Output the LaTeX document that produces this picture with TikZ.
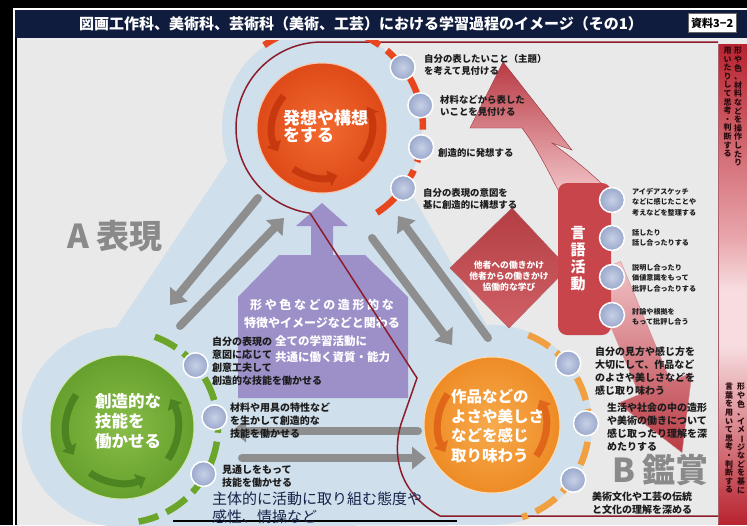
\documentclass[tikz,border=0pt]{standalone}
\usepackage{fontspec}
\usepackage{graphicx}
\setmainfont{Noto Sans CJK JP}
\usetikzlibrary{arrows.meta,calc}

\definecolor{bgc}{HTML}{E9E9E9}
\definecolor{halo}{HTML}{CFE0EC}
\definecolor{navy}{HTML}{0F1C3E}
\definecolor{topL}{HTML}{F26A30}
\definecolor{topD}{HTML}{DE4A18}
\definecolor{topA}{HTML}{C8380E}
\definecolor{topR}{HTML}{E8461E}
\definecolor{grnL}{HTML}{88BC48}
\definecolor{grnD}{HTML}{66A02C}
\definecolor{grnA}{HTML}{4B8420}
\definecolor{grnR}{HTML}{6BA52A}
\definecolor{orL}{HTML}{F7AA4C}
\definecolor{orD}{HTML}{EE8C26}
\definecolor{orA}{HTML}{E0661A}
\definecolor{orR}{HTML}{F0A040}
\definecolor{dred}{HTML}{8C1C2A}
\definecolor{bulL}{HTML}{C8D0E6}
\definecolor{bulD}{HTML}{9AA8CC}
\definecolor{purp}{HTML}{9D90C8}
\definecolor{garr}{HTML}{8E8E8E}
\definecolor{rbox}{HTML}{C7454B}
\definecolor{txt}{HTML}{1C1C1C}
\definecolor{arrD}{HTML}{B93A44}
\definecolor{arrL}{HTML}{F2C4C8}
\definecolor{banD}{HTML}{B8232F}
\definecolor{banM}{HTML}{E8A4AA}
\definecolor{banL}{HTML}{F7DDE0}
\definecolor{bigg}{HTML}{8A8A8A}
\definecolor{navytxt}{HTML}{18224A}
\definecolor{bantxt}{HTML}{2A0A0E}

\newcommand\fsz[2]{\fontsize{#1}{#2}\selectfont}
\def\myendmark{\myend}
\def\myvstep#1{\def\mytmp{#1}\ifx\mytmp\myendmark\else\hbox to 1em{\hss#1\hss}\expandafter\myvstep\fi}
\newcommand\myvtext[2]{\vbox{\baselineskip=#1\lineskiplimit=-20pt\myvstep#2\myend}}

\begin{document}
\begin{tikzpicture}[x=1pt,y=-1pt,
  lbl/.style={anchor=north west,align=left,inner sep=0pt,text=txt,font=\bfseries\fsz{9.4}{12.5}},
  lblg/.style={anchor=north west,align=left,inner sep=0pt,text=txt,font=\bfseries\fsz{10}{13}},
  lbls/.style={anchor=north west,align=left,inner sep=0pt,text=txt,font=\bfseries\fsz{7.1}{10.5}},
  bullet/.style={circle,minimum size=25pt,inner sep=0pt,draw=white,line width=1.5pt,inner color=bulL,outer color=bulD},
  garrow/.style={draw=garr,line width=8pt,line cap=round,-{Triangle[width=22pt,length=14pt]}},
  ringd/.style={line width=6.5pt,dash pattern=on 24pt off 9pt},
  inarr/.style={line width=7pt,-{Triangle[width=16pt,length=9pt]}},
  bigt/.style={font=\bfseries\fsz{33}{33},text=bigg,inner sep=0pt},
  vban/.style={font=\bfseries\fsz{8}{8},text=bantxt,anchor=north,inner sep=0pt},
]
\useasboundingbox (0,0) rectangle (747,525);
\clip (0,0) rectangle (747,525);
\fill[bgc] (0,0) rectangle (747,525);

\coordinate (Tc) at (322,128);
\coordinate (Gc) at (122,427);
\coordinate (Bc) at (492,425);

% halo
\fill[halo] (Tc) circle[radius=100] (Gc) circle[radius=100] (Bc) circle[radius=100];
\fill[halo] (Tc) -- (Gc) -- (Bc) -- cycle;
\draw[halo,line width=120pt] (Tc) -- (Gc);
\draw[halo,line width=90pt] (Tc) -- (Bc);
\draw[halo,line width=200pt] (Gc) -- (Bc);

% right banners
\shade[top color=banD,bottom color=banM] (718,44) rectangle (747,236);
\shade[top color=banM,bottom color=banL] (718,236) rectangle (747,290);
\fill[banL] (718,290) rectangle (747,345);
\shade[top color=banL,bottom color=banD] (718,345) rectangle (747,524);
\draw[dred!70,line width=0.8pt] (718,44) -- (718,524);
\node[vban] (b1r) at (738,47) {\myvtext{8.6pt}{形や色、材料などを操作したり}};
\node[vban] (b1l) at (727.5,47) {\myvtext{8.6pt}{用いたりして思考・判断する}};
\node[vban] (b2r) at (741,383) {\myvtext{8.6pt}{形や色、イメ{\rotatebox[origin=c]{-90}{ー}}ジなどを基に}};
\node[vban] (b2l) at (729,383) {\myvtext{8.6pt}{言葉を用いて思考・判断する}};

% big red arrows
\shadedraw[top color=arrD,bottom color=arrL,draw=arrD!80!black,line width=0.4pt]
  (503,62) -- (572,150) -- (552,143) .. controls (575,160) and (590,172) .. (604,186)
  -- (560,194) .. controls (548,170) and (535,145) .. (522,128) -- (470,128) -- cycle;
\shadedraw[top color=arrL,bottom color=arrD,draw=arrD!60,line width=0.4pt]
  (589,274.5) -- (620.7,261.5) -- (670.7,381.5) -- (692,372.6) -- (682,452.6) -- (618,403.4) -- (639.3,394.5) -- cycle;

% diamond
\shadedraw[top color=rbox!90!black,bottom color=rbox!85!white,draw=dred!70] (512,208) -- (568,268) -- (509,328) -- (450,268) -- cycle;
\node[align=center,inner sep=0pt,text=white,font=\bfseries\fsz{8.8}{11}] (D) at (509,276) {他者への働きかけ\\他者からの働きかけ\\協働的な学び};

% gray arrows
\coordinate (g1s) at (258,198); \coordinate (g1e) at (170,305);
\coordinate (g2s) at (180,326); \coordinate (g2e) at (284,218);
\coordinate (b1s) at (372,238); \coordinate (b1e) at (452,345);
\coordinate (b2s) at (488,338); \coordinate (b2e) at (398,216);
\coordinate (h1s) at (418,431); \coordinate (h1e) at (232,431);
\coordinate (h2s) at (242,458); \coordinate (h2e) at (426,458);
\draw[garrow] (g1s) -- (g1e);
\draw[garrow] (g2s) -- (g2e);
\draw[garrow] (b1s) -- (b1e);
\draw[garrow] (b2s) -- (b2e);
\draw[garrow] (h1s) -- (h1e);
\draw[garrow] (h2s) -- (h2e);

% purple shape
\fill[purp] (322,203) -- (348,226) -- (333,226) -- (333,255) -- (365,255) -- (408,297) -- (408,398)
  -- (238,398) -- (238,297) -- (279,255) -- (311,255) -- (311,226) -- (296,226) -- cycle;
\node[align=center,inner sep=0pt,text=white,font=\bfseries\fsz{12}{18}] (P1) at (322,314)
  {{\addfontfeature{LetterSpace=22}形や色などの造形的な}\\特徴やイメージなどと関わる};
\node[anchor=north west,align=left,inner sep=0pt,text=white,font=\bfseries\fsz{11.5}{16}] (P2) at (275,335)
  {全ての学習活動に\\共通に働く資質・能力};

% dark red outline
\draw[dred,line width=1.5pt] (718,42) -- (322,42) arc[start angle=-90,end angle=-262,radius=86]
  -- (417,378) -- (401,424) .. controls (392,455) and (398,492) .. (440,516) -- (718,516);
\draw[black,line width=1.2pt] (173,521) -- (457,521);

% dashed rings
\draw[ringd,topR] (Tc) ++(-125:101) arc[start angle=-125,end angle=58,radius=101];
\draw[ringd,grnR] (Gc) ++(-70:96) arc[start angle=-70,end angle=80,radius=96];
\draw[ringd,orR] (Bc) ++(-68:97) arc[start angle=-68,end angle=72,radius=97];

% circles
\node[circle,minimum size=130pt,inner sep=0pt,draw=white!60!topL,line width=1pt,inner color=topL,outer color=topD] (T) at (Tc) {};
\node[circle,minimum size=144pt,inner sep=0pt,draw=white!60!grnL,line width=1pt,inner color=grnL,outer color=grnD] (G) at (Gc) {};
\node[circle,minimum size=136pt,inner sep=0pt,draw=white!60!orL,line width=1pt,inner color=orL,outer color=orD] (B) at (Bc) {};

% inner arrows
\draw[inarr,topA] (Tc) ++(220:50) arc[start angle=220,end angle=152,radius=50];
\draw[inarr,topA] (Tc) ++(40:50) arc[start angle=40,end angle=-25,radius=50];
\draw[inarr,topA] (Tc) ++(125:50) arc[start angle=125,end angle=72,radius=50];
\draw[inarr,grnA] (Gc) ++(215:56) arc[start angle=215,end angle=150,radius=56];
\draw[inarr,grnA] (Gc) ++(35:56) arc[start angle=35,end angle=-30,radius=56];
\draw[inarr,grnA] (Gc) ++(125:56) arc[start angle=125,end angle=65,radius=56];
\draw[inarr,orA] (Bc) ++(215:54) arc[start angle=215,end angle=150,radius=54];
\draw[inarr,orA] (Bc) ++(35:54) arc[start angle=35,end angle=-28,radius=54];

% circle texts
\node[anchor=north west,align=left,inner sep=0pt,text=white,font=\bfseries\fsz{17}{17}] (Tt) at (283,110) {発想や構想\\をする};
\node[anchor=north west,align=left,inner sep=0pt,text=white,font=\bfseries\fsz{16.5}{20}] (Gt) at (95,393) {創造的な\\技能を\\働かせる};
\node[anchor=north west,align=left,inner sep=0pt,text=white,font=\bfseries\fsz{15.5}{19.5}] (Bt) at (451,389) {作品などの\\よさや美しさ\\などを感じ\\取り味わう};

% bullets
\node[bullet] (t1) at ($(Tc)+(-37:101)$) {};
\node[bullet] (t2) at ($(Tc)+(-13:101)$) {};
\node[bullet] (t3) at ($(Tc)+(11:101)$) {};
\node[bullet] (t4) at ($(Tc)+(36.5:101)$) {};
\node[bullet] (g1) at ($(Gc)+(-40:96)$) {};
\node[bullet] (g2) at ($(Gc)+(-6:93)$) {};
\node[bullet] (g3) at ($(Gc)+(30:94)$) {};
\node[bullet] (bb1) at ($(Bc)+(-39:98)$) {};
\node[bullet] (bb2) at ($(Bc)+(-1:94)$) {};
\node[bullet] (bb3) at ($(Bc)+(34:98)$) {};

% language activity box
\node[rectangle,rounded corners=9pt,fill=rbox,minimum width=53pt,minimum height=152pt,inner sep=0pt] (L) at (584.5,259) {};
\node[text=white,font=\bfseries\fsz{15}{15},inner sep=0pt] (Lt) at (578,259) {\myvtext{17pt}{言語活動}};
\node[bullet] (l1) at (612,200) {};
\node[bullet] (l2) at (612,238) {};
\node[bullet] (l3) at (612,277) {};
\node[bullet] (l4) at (612,315) {};

% labels top
\node[lbl] at (424,54) {自分の表したいこと（主題）\\を考えて見付ける};
\node[lbl] at (440,95) {材料などから表した\\いことを見付ける};
\node[lbl] at (438,148) {創造的に発想する};
\node[lbl] at (423,188) {自分の表現の意図を\\基に創造的に構想する};
% labels green
\node[lblg] at (212,337) {自分の表現の\\意図に応じて\\創意工夫して\\創造的な技能を働かせる};
\node[lblg] at (230,403) {材料や用具の特性など\\を生かして創造的な\\技能を働かせる};
\node[lblg] at (222,465) {見通しをもって\\技能を働かせる};
\node[anchor=north west,align=left,inner sep=0pt,text=navytxt,font=\fsz{15}{18}] at (212,492) {主体的に活動に取り組む態度や\\感性、情操など};
% labels B
\node[lblg] at (595,347) {自分の見方や感じ方を\\大切にして、作品など\\のよさや美しさなどを\\感じ取り味わう};
\node[lblg] at (607,403) {生活や社会の中の造形\\や美術の働きについて\\感じ取ったり理解を深\\めたりする};
\node[lblg] at (592,492) {美術文化や工芸の伝統\\と文化の理解を深める};
% labels language
\node[lbls] at (632,188) {アイデアスケッチ\\などに感じたことや\\考えなどを整理する};
\node[lbls] at (632,229) {話したり\\話し合ったりする};
\node[lbls] at (632,264) {説明し合ったり\\価値意識をもって\\批評し合ったりする};
\node[lbls] at (632,308) {討論や根拠を\\もって批評し合う};

% big labels
\node[bigt,anchor=west] (A) at (67,236) {A 表現};
\node[bigt,anchor=west] (Bk) at (612,470) {B 鑑賞};

% frame and header
\fill[black] (0,0) rectangle (747,8);
\fill[white] (13,8) rectangle (747,10);
\fill[black] (0,0) rectangle (13,525);
\fill[white] (13,8) rectangle (15.3,525);
\fill[black] (15.3,38) rectangle (16.5,525);
\fill[navy] (15.3,10) rectangle (747,38);
\fill[white!85!gray] (16.5,38) rectangle (747,40);
\node[text=white,font=\bfseries\fsz{15}{15},inner sep=0pt] (title) at (361,24)
  {図画工作科、美術科、芸術科（美術、工芸）における学習過程のイメージ（その1）};
\node[draw=black!60,fill=white,anchor=west,font=\bfseries\fsz{11}{11},inner sep=3pt,minimum height=19pt] (ref) at (688,23) {資料3−2};
\end{tikzpicture}
\end{document}
